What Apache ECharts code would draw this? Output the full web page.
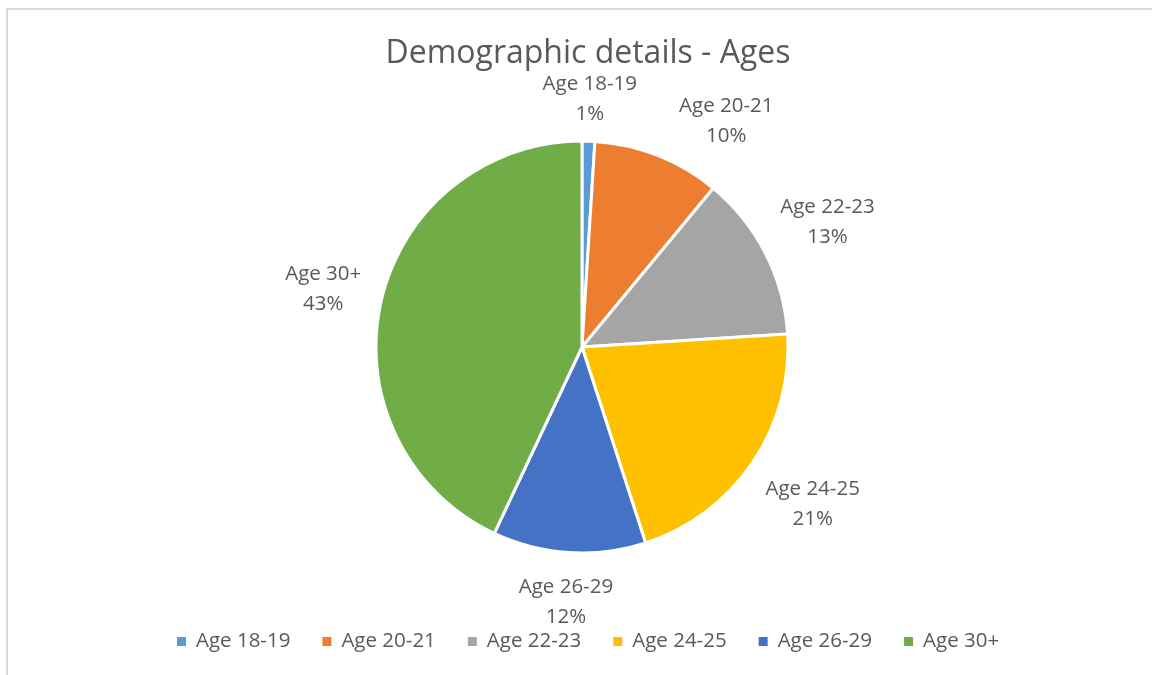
<!DOCTYPE html>
<html>
<head>
<meta charset="utf-8">
<script src="https://cdn.jsdelivr.net/npm/echarts@6/dist/echarts.min.js"></script>
<style>html,body{margin:0;padding:0;background:#fff;}#c{width:1152px;height:675px;}</style>
</head>
<body>
<div id="c"></div>
<script>
const titleText = 'Demographic details - Ages';
const categories = ['Age 18-19', 'Age 20-21', 'Age 22-23', 'Age 24-25', 'Age 26-29', 'Age 30+'];
const values = [1, 10, 13, 21, 12, 43];
const colors = ['#5B9BD5', '#ED7D31', '#A5A5A5', '#FFC000', '#4472C4', '#70AD47'];

const CX = 582, CY = 347, R = 206, GAP = 17, TOP_EXTRA = -7;
const total = values.reduce((a, b) => a + b, 0);
const midAngles = [];
(function () {
  let cum = 0;
  values.forEach(v => { midAngles.push((cum + v / 2) / total * 360); cum += v; });
})();

let placed = [];
function boxAt(theta, w, h) {
  const rad = theta * Math.PI / 180;
  const dx = Math.sin(rad), dy = -Math.cos(rad);
  const t = Math.abs(dx) * w / 2 + Math.abs(dy) * h / 2;
  const d = R + GAP + TOP_EXTRA * Math.max(0, -dy) + t;
  const x = CX + dx * d, y = CY + dy * d;
  return { x: x, y: y, l: x - w / 2, r: x + w / 2, t: y - h / 2, b: y + h / 2 };
}
function overlaps(b) {
  const m = 38;
  return placed.some(p => !(b.l >= p.r + m || b.r <= p.l - m || b.t >= p.b || b.b <= p.t));
}

const chart = echarts.init(document.getElementById('c'));
chart.setOption({
  animation: false,
  backgroundColor: '#ffffff',
  color: colors,
  title: {
    text: titleText,
    left: 583,
    top: 33,
    textAlign: 'center',
    textStyle: { fontFamily: 'Open Sans', fontSize: 32, fontWeight: 'normal', color: '#595959' }
  },
  legend: {
    left: 177,
    top: 631,
    padding: 0,
    itemWidth: 9,
    itemHeight: 9,
    itemGap: 32,
    icon: 'rect',
    itemStyle: { borderWidth: 0 },
    data: categories,
    textStyle: { fontFamily: 'Open Sans', fontSize: 20.5, color: '#595959', padding: [0, 0, 0, 5] }
  },
  graphic: [{
    type: 'rect',
    shape: { x: 7, y: 9, width: 1300, height: 800 },
    style: { fill: 'none', stroke: '#d9d9d9', lineWidth: 2 },
    silent: true
  }],
  series: [{
    type: 'pie',
    center: [CX, CY],
    radius: R,
    startAngle: 90,
    clockwise: true,
    avoidLabelOverlap: false,
    data: categories.map((c, i) => ({ name: c, value: values[i] })),
    itemStyle: { borderColor: '#ffffff', borderWidth: 3 },
    label: {
      show: true,
      position: 'outside',
      fontFamily: 'Open Sans',
      fontSize: 20.5,
      lineHeight: 30,
      color: '#595959',
      formatter: p => p.name + '\n' + Math.round(p.percent) + '%'
    },
    labelLine: { show: false },
    labelLayout: function (params) {
      const i = params.dataIndex;
      if (i === 0) placed = [];
      const w = params.labelRect.width, h = params.labelRect.height;
      let theta = midAngles[i];
      let b = boxAt(theta, w, h);
      let n = 0;
      while (overlaps(b) && n < 60) { theta += 1; b = boxAt(theta, w, h); n++; }
      placed.push(b);
      return { x: b.x, y: b.y, align: 'center', verticalAlign: 'middle' };
    }
  }]
});
</script>
</body>
</html>
